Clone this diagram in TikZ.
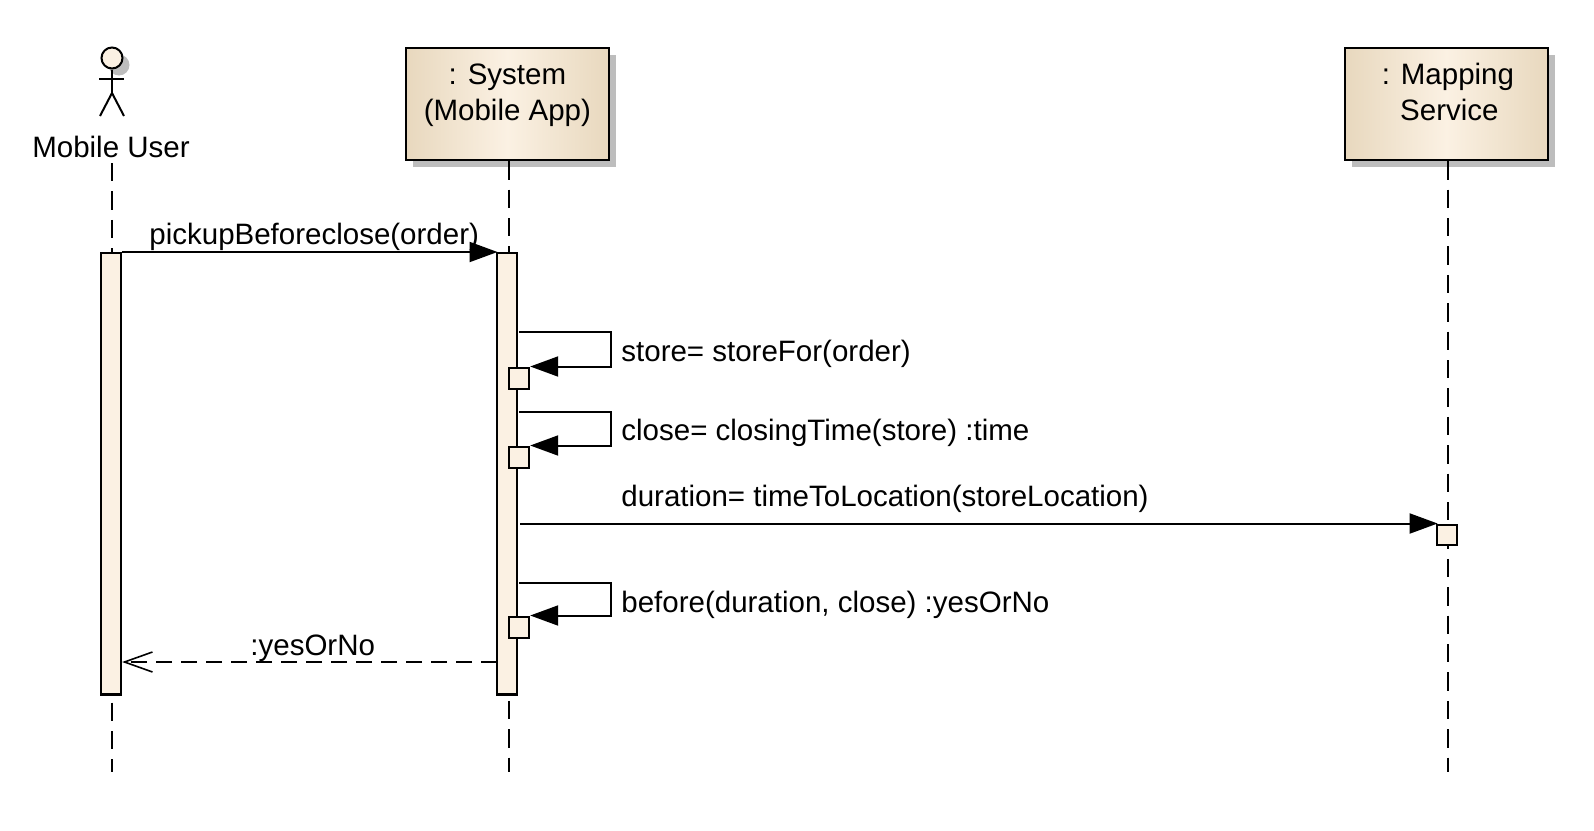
\documentclass[tikz,border=0pt]{standalone}
\usepackage{fontspec}
\setmainfont{Liberation Sans}
\usetikzlibrary{arrows.meta,shadows}
\definecolor{actfill}{HTML}{FBF1E3}
\definecolor{boxedge}{HTML}{E8D8BE}
\definecolor{shadowgray}{HTML}{BDBDBD}
\tikzset{
    umlshadow/.style={drop shadow={shadow xshift=3.5pt, shadow yshift=-3.5pt, fill=shadowgray, opacity=1}},
    lifebox/.style={draw, line width=1.1pt, umlshadow, left color=boxedge, right color=boxedge, middle color=actfill,
        minimum width=101.3pt, minimum height=56pt, inner sep=0pt, anchor=north west, align=center, text depth=12pt},
    lifeline/.style={line width=1pt, dash pattern=on 9.2pt off 5pt},
    activation/.style={draw, line width=1.1pt, fill=actfill, minimum width=10pt, inner sep=0pt, anchor=north},
    callbox/.style={draw, line width=1.1pt, fill=actfill, minimum width=10pt, minimum height=10.7pt, inner sep=0pt, anchor=north west},
    selfmsg/.style={line width=1pt, -{Triangle[length=14pt, width=10pt]}},
    msg/.style={selfmsg, shorten >=-0.8pt},
    reply/.style={line width=1pt, dash pattern=on 8pt off 4.5pt, -{Straight Barb[length=14pt, width=10pt, line width=0.8pt]}},
    msglabel/.style={anchor=base west, inner sep=0pt},
}
\begin{document}
\begin{tikzpicture}[x=0.5pt, y=-0.5pt, font=\fontsize{14.75}{18}\selectfont]
    \useasboundingbox (0,0) rectangle (1594,830);
    \node[draw, circle, line width=1pt, minimum size=10.5pt, inner sep=0pt, fill=actfill, umlshadow] (head) at (112,58) {};
    \coordinate (hip) at (112,93);
    \coordinate (armleft) at (99,79);
    \coordinate (armright) at (124,79);
    \coordinate (legleft) at (100,116);
    \coordinate (legright) at (124,116);
    \draw[line width=1pt] (head.south) -- (hip);
    \draw[line width=1pt] (armleft) -- (armright);
    \draw[line width=1pt] (legleft) -- (hip) -- (legright);
    \node[inner sep=0pt, anchor=base] (user) at (111,157) {Mobile User};
    \node[lifebox] (system) at (405,47) {: System\\(Mobile App)};
    \node[lifebox] (mapping) at (1344,47) {\hspace{1.5pt}: Mapping\\\hspace{3pt}Service};
    \coordinate (userstart) at (112,163);
    \coordinate (userend) at (112,772);
    \coordinate (systemend) at (508.5,772);
    \coordinate (mappingend) at (1447.5,772);
    \draw[lifeline] (userstart) -- (userend);
    \draw[lifeline] (system.south -| systemend) -- (systemend);
    \draw[lifeline] (mapping.south -| mappingend) -- (mappingend);
    \node[activation, minimum height=220.7pt] (useract) at (111,252) {};
    \node[activation, minimum height=220.7pt] (systemact) at (507,252) {};
    \node[callbox] (storebox) at (508,366.5) {};
    \node[callbox] (closebox) at (508,445.5) {};
    \node[callbox] (beforebox) at (508,615.5) {};
    \node[callbox, minimum height=10pt] (mapbox) at (1436,523.5) {};
    \coordinate (storefrom) at (519,332);
    \coordinate (storeturn) at (611,350);
    \coordinate (closefrom) at (519,412);
    \coordinate (closeturn) at (611,430);
    \coordinate (beforefrom) at (519,583);
    \coordinate (beforeturn) at (611,600);
    \coordinate (replyfrom) at (497,662);
    \draw[msg] (useract.north east) -- (systemact.north west);
    \draw[selfmsg] (storefrom) -| (storeturn) |- (storebox.north east);
    \draw[selfmsg] (closefrom) -| (closeturn) |- (closebox.north east);
    \draw[msg] (systemact.east |- mapbox.north west) ++(2,0) -- (mapbox.north west);
    \draw[selfmsg] (beforefrom) -| (beforeturn) |- (beforebox.north east);
    \draw[reply] (replyfrom) -- (useract.east |- replyfrom);
    \node[msglabel] (pickuplabel) at (149,244) {pickupBeforeclose(order)};
    \node[msglabel] (storelabel) at (621,361) {store= storeFor(order)};
    \node[msglabel] (closelabel) at (621,440) {close= closingTime(store) :time};
    \node[msglabel] (durationlabel) at (621,506) {duration= timeToLocation(storeLocation)};
    \node[msglabel] (beforelabel) at (621,612) {before(duration, close) :yesOrNo};
    \node[msglabel] (replylabel) at (250,655) {:yesOrNo};
\end{tikzpicture}
\end{document}
